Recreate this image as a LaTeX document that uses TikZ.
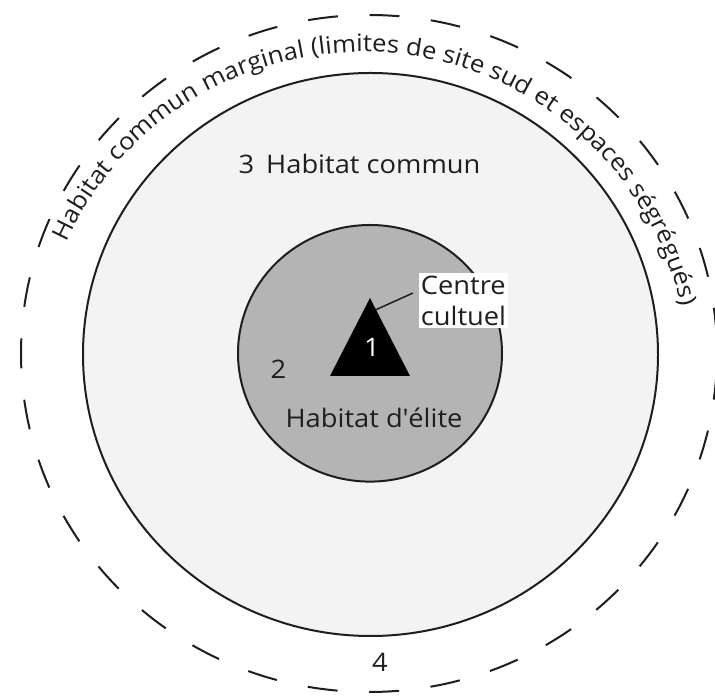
\documentclass[tikz,border=0pt]{standalone}
\usepackage{fontspec}
\setmainfont{Open Sans}[FakeStretch=1.07]
\usetikzlibrary{decorations.text,calc}
\definecolor{inkc}{HTML}{1E1E1E}
\definecolor{lightfill}{HTML}{F3F3F3}
\definecolor{elitefill}{HTML}{B4B4B4}
\tikzset{
  ring/.style={draw=inkc, line width=2pt},
  lbl/.style={font=\fontsize{25.5}{30}\selectfont, text=inkc, inner sep=0pt},
}
\begin{document}
\begin{tikzpicture}[x=1pt,y=1pt]
\useasboundingbox (0,0) rectangle (715,696);
\fill[white] (0,0) rectangle (715,696);
% rings
\draw[ring, dash pattern=on 30pt off 31.62pt, dash phase=45.81pt] (369,342.5) ellipse [x radius=348, y radius=338.5];
\draw[ring, fill=lightfill] (370.5,341.5) ellipse [x radius=287.5, y radius=281.5];
\draw[ring, fill=elitefill] (370,342.7) ellipse [x radius=132, y radius=128.3];
% triangle
\coordinate (t1) at (370,398);
\coordinate (t2) at (330,320);
\coordinate (t3) at (410,320);
\fill[black] (t1) -- (t2) -- (t3) -- cycle;
% labels
\node[lbl, text=white] (n1) at (372,349) {1};
\node[lbl] (n2) at (278.5,326.5) {2};
\node[lbl] (elite) at (374,278.5) {Habitat d\textquotesingle élite};
\node[lbl] (commun) at (359.5,532) {3\hspace{12pt}Habitat commun};
\node[lbl] (n4) at (380,34) {4};
\node[lbl, font=\fontsize{25.5}{31}\selectfont, fill=white, align=left, inner xsep=1.5pt, inner ysep=3pt] (cc) at (463.5,395.5) {Centre\\cultuel};
\coordinate (lead) at (413,403);
\coordinate (tip) at ($(t1)!0.15!(t3)$);
\draw[inkc, line width=1.5pt] (lead) -- (tip);
% curved text
\path[decorate, decoration={text along path, text align=center, text color=inkc,
  text={|\fontsize{24}{28}\selectfont|Habitat commun marginal (limites de site sud et espaces ségrégués)}}]
  (363,318) ++(158:326) arc[start angle=158, end angle=10, radius=326];
\end{tikzpicture}
\end{document}
